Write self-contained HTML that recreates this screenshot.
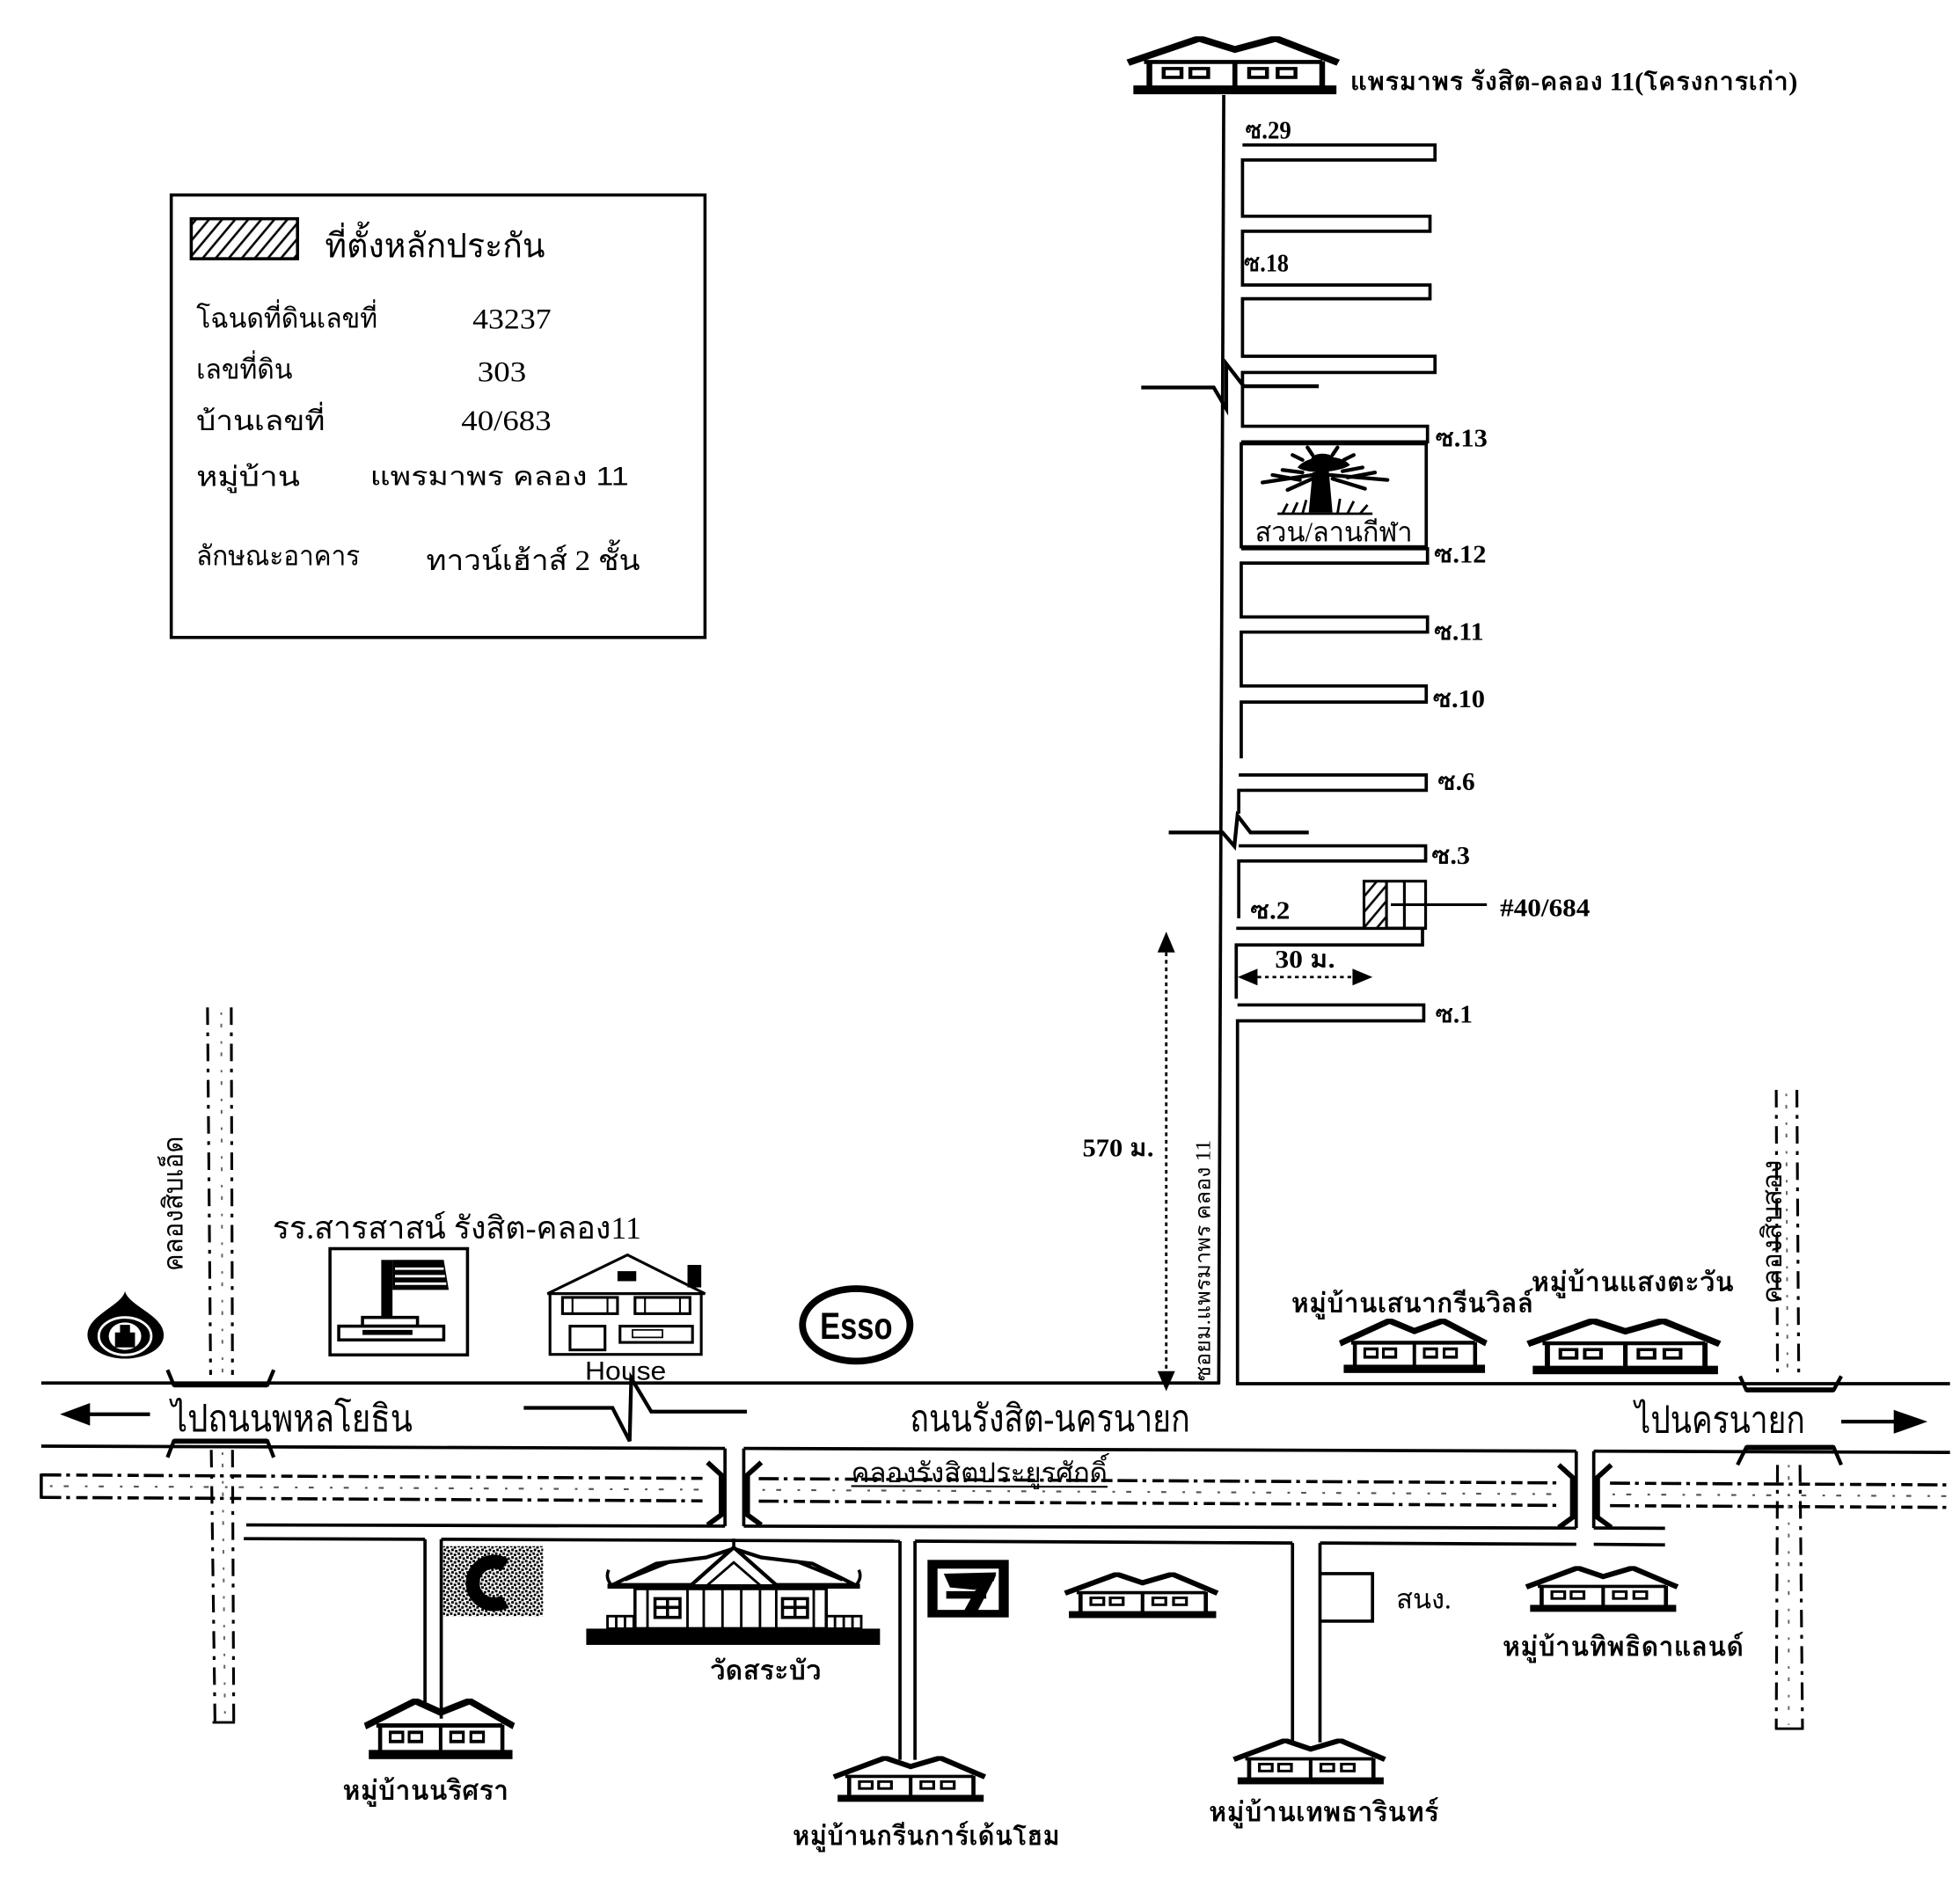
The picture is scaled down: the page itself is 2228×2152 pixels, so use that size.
<!DOCTYPE html>
<html><head><meta charset="utf-8"><style>
html,body{margin:0;padding:0;background:#fff;}
svg{display:block;}
.t{font-family:"Liberation Serif","Norasi","Loma","Noto Sans CJK SC",serif;fill:#000;}
.b{font-weight:bold;}
.s{font-family:"Liberation Sans","Loma","Noto Sans CJK SC",sans-serif;fill:#000;}
</style></head><body>
<svg width="2228" height="2152" viewBox="0 0 1568 1514.5" preserveAspectRatio="none" xmlns="http://www.w3.org/2000/svg">
<defs>
<pattern id="hatch" width="8" height="8" patternUnits="userSpaceOnUse" patternTransform="rotate(40)"><rect width="8" height="8" fill="#fff"/><line x1="1" y1="0" x2="1" y2="8" stroke="#000" stroke-width="1.8"/></pattern>
<pattern id="speck" width="6" height="6" patternUnits="userSpaceOnUse"><rect width="6" height="6" fill="#fff"/><rect x="0" y="0" width="2" height="2" fill="#000"/><rect x="3" y="1" width="2" height="2" fill="#000"/><rect x="1" y="3" width="2" height="2" fill="#000"/><rect x="4" y="4" width="2" height="2" fill="#000"/></pattern>
<symbol id="hs" viewBox="0 0 120 40" preserveAspectRatio="none">
 <polyline points="1,18 41,1.5 61,9 84,1.5 119,18" fill="none" stroke="#000" stroke-width="4.5" stroke-linejoin="miter"/>
 <line x1="10" y1="17.5" x2="110" y2="17.5" stroke="#000" stroke-width="2.8"/>
 <line x1="13" y1="17" x2="13" y2="34" stroke="#000" stroke-width="3.2"/>
 <line x1="61" y1="17" x2="61" y2="34" stroke="#000" stroke-width="2.8"/>
 <line x1="110" y1="17" x2="110" y2="34" stroke="#000" stroke-width="3.2"/>
 <rect x="21" y="22" width="10" height="6" fill="none" stroke="#000" stroke-width="2.2"/>
 <rect x="36" y="22" width="10" height="6" fill="none" stroke="#000" stroke-width="2.2"/>
 <rect x="69" y="22" width="10" height="6" fill="none" stroke="#000" stroke-width="2.2"/>
 <rect x="85" y="22" width="10" height="6" fill="none" stroke="#000" stroke-width="2.2"/>
 <rect x="4" y="33.5" width="114" height="6" fill="#000"/>
</symbol>
</defs>
<rect x="0" y="0" width="1568" height="1514.5" fill="#fff"/>

<!-- Legend -->
<rect x="137" y="156" width="427" height="354" fill="none" stroke="#000" stroke-width="2.5"/>
<rect x="153" y="175" width="85" height="32" fill="url(#hatch)" stroke="#000" stroke-width="2.5"/>
<text class="t" x="260" y="206" font-size="27" textLength="176" lengthAdjust="spacingAndGlyphs">ที่ตั้งหลักประกัน</text>
<text class="t" x="157" y="262" font-size="22" textLength="145" lengthAdjust="spacingAndGlyphs">โฉนดที่ดินเลขที่</text>
<text class="t" x="378" y="263" font-size="23" textLength="63" lengthAdjust="spacingAndGlyphs">43237</text>
<text class="t" x="157" y="303" font-size="22" textLength="77" lengthAdjust="spacingAndGlyphs">เลขที่ดิน</text>
<text class="t" x="382" y="305" font-size="23" textLength="39" lengthAdjust="spacingAndGlyphs">303</text>
<text class="t" x="157" y="344" font-size="22" textLength="103" lengthAdjust="spacingAndGlyphs">บ้านเลขที่</text>
<text class="t" x="369" y="344" font-size="23" textLength="72" lengthAdjust="spacingAndGlyphs">40/683</text>
<text class="t" x="157" y="389" font-size="22" textLength="83" lengthAdjust="spacingAndGlyphs">หมู่บ้าน</text>
<text class="s" x="296" y="388" font-size="21" textLength="207" lengthAdjust="spacingAndGlyphs">แพรมาพร คลอง 11</text>
<text class="t" x="157" y="452" font-size="22" textLength="131" lengthAdjust="spacingAndGlyphs">ลักษณะอาคาร</text>
<text class="t" x="341" y="456" font-size="23" textLength="171" lengthAdjust="spacingAndGlyphs">ทาวน์เฮ้าส์ 2 ชั้น</text>

<!-- Top house -->
<use href="#hs" x="901" y="29" width="171" height="47"/>
<text class="t b" x="1080" y="72" font-size="21" textLength="358" lengthAdjust="spacingAndGlyphs">แพรมาพร รังสิต-คลอง 11(โครงการเก่า)</text>

<!-- Main soi road -->
<g fill="none" stroke="#000" stroke-width="2.6">
<path d="M979,76 L975,1107"/>
<path d="M994,116 H1148 V128 H994 V173 H1144 V185 H994 V228 H1144 V239 H994 V285 H1148 V298 H994 V341 H1142 V353.5 H993"/>
<rect x="993" y="355" width="148" height="82.5"/>
<path d="M993,439 H1142 V450.5 H993 V493.6 H1142 V505.7 H993 V548.8 H1141 V561.7 H993 V606.7"/>
<path d="M991,620 H1141 V632.3 H991 V651"/>
<path d="M991,676.7 H1140.5 V688.8 H991 V734.6"/>
<path d="M989,742.7 H1140.5 M1138,742.7 V756 H989 V799"/>
<path d="M990,804 H1139 V816.7 H990 V1107 H1560"/>
<path d="M33,1106.5 H976"/>
</g>
<!-- breaks -->
<g fill="none" stroke="#000" stroke-width="3">
<path d="M913,310 H971 L981,327 L981,291 L995,309 H1055"/>
<path d="M935,666 H978 L987.5,677 L990,652.5 L1000.4,666 H1047"/>
<path d="M419,1126.4 H490 L503.7,1153 L505,1102.6 L521,1129.4 H597.5"/>
</g>

<!-- Garden tree -->
<g>
<polygon points="1050,378 1063,376 1066,410 1047,410" fill="#000"/>
<path d="M1038,374 C1045,364 1072,362 1080,372 C1072,378 1046,380 1038,374 Z" fill="#000"/>
<ellipse cx="1058" cy="367" rx="9" ry="4" fill="#000"/>
<g stroke="#000" stroke-width="3" fill="none" stroke-linecap="round">
<path d="M1010,386 L1050,380 M1018,380 L1040,384 M1030,392 L1050,383 M1026,376 L1042,378"/>
<path d="M1110,384 L1064,380 M1100,378 L1078,382 M1092,391 L1066,383 M1090,374 L1074,377"/>
<path d="M1042,368 L1034,364 M1075,368 L1083,364 M1050,364 L1046,358 M1066,364 L1070,358"/>
</g>
<g stroke="#000" stroke-width="2" fill="none">
<path d="M1022,411 H1098 M1026,411 L1030,403 M1034,411 L1038,402 M1042,411 L1045,400 M1070,411 L1072,399 M1078,411 L1083,401 M1088,411 L1094,404"/>
</g>
</g>
<text class="t" x="1004" y="433" font-size="22" textLength="126" lengthAdjust="spacingAndGlyphs">สวน/ลานกีฬา</text>

<!-- soi labels -->
<g class="t b" font-size="20">
<text x="996" y="111" textLength="37" lengthAdjust="spacingAndGlyphs">ซ.29</text>
<text x="995" y="217" textLength="36" lengthAdjust="spacingAndGlyphs">ซ.18</text>
<text x="1148" y="357" textLength="42" lengthAdjust="spacingAndGlyphs">ซ.13</text>
<text x="1147" y="450" textLength="42" lengthAdjust="spacingAndGlyphs">ซ.12</text>
<text x="1147" y="512" textLength="40" lengthAdjust="spacingAndGlyphs">ซ.11</text>
<text x="1146" y="566" textLength="42" lengthAdjust="spacingAndGlyphs">ซ.10</text>
<text x="1150" y="632" textLength="30" lengthAdjust="spacingAndGlyphs">ซ.6</text>
<text x="1145" y="691" textLength="31" lengthAdjust="spacingAndGlyphs">ซ.3</text>
<text x="1000" y="735" textLength="32" lengthAdjust="spacingAndGlyphs">ซ.2</text>
<text x="1200" y="733" textLength="72" lengthAdjust="spacingAndGlyphs">#40/684</text>
<text x="1020" y="774" textLength="48" lengthAdjust="spacingAndGlyphs">30 ม.</text>
<text x="1148" y="818" textLength="30" lengthAdjust="spacingAndGlyphs">ซ.1</text>
<text x="866" y="925" textLength="57" lengthAdjust="spacingAndGlyphs">570 ม.</text>
</g>

<!-- plot -->
<rect x="1091.2" y="705" width="18" height="37.7" fill="url(#hatch)"/>
<g fill="none" stroke="#000" stroke-width="2.2">
<rect x="1091.2" y="705" width="49.3" height="37.7"/>
<line x1="1109.2" y1="705" x2="1109.2" y2="742.7"/>
<line x1="1123.5" y1="705" x2="1123.5" y2="742.7"/>
<line x1="1112.7" y1="723.8" x2="1189.5" y2="723.8"/>
</g>

<!-- 30m arrow -->
<line x1="1006" y1="781.7" x2="1082" y2="781.7" stroke="#000" stroke-width="2" stroke-dasharray="3 3"/>
<polygon points="990.2,781.7 1006,775 1006,788.4" fill="#000"/>
<polygon points="1098,781.7 1082,775 1082,788.4" fill="#000"/>

<!-- 570m arrow -->
<line x1="933" y1="762" x2="933" y2="1097" stroke="#000" stroke-width="2" stroke-dasharray="3 3"/>
<polygon points="933,745.4 926,762 940,762" fill="#000"/>
<polygon points="933,1113 926,1097 940,1097" fill="#000"/>

<text class="t" font-size="17" transform="translate(968,1105) rotate(-90)" textLength="193" lengthAdjust="spacingAndGlyphs">ซอยม.แพรมาพร คลอง 11</text>

<!-- Highway bottom & lower roads -->
<g stroke="#000" stroke-width="2.6" fill="none">
<line x1="33" y1="1157" x2="580" y2="1158.8"/>
<line x1="595" y1="1158.8" x2="1261" y2="1161"/>
<line x1="1275" y1="1161" x2="1560" y2="1162"/>
<line x1="197" y1="1220" x2="580" y2="1221"/>
<line x1="595" y1="1221" x2="1261" y2="1222.5"/>
<line x1="1275" y1="1222.5" x2="1332" y2="1222.7"/>
<line x1="195" y1="1231" x2="340" y2="1231.5"/>
<line x1="353" y1="1231.5" x2="720" y2="1233"/>
<line x1="732" y1="1233" x2="1034" y2="1234.5"/>
<line x1="1056" y1="1234.5" x2="1261" y2="1235.5"/>
<line x1="1275" y1="1235.5" x2="1332" y2="1236"/>
<line x1="340" y1="1231.5" x2="340" y2="1362"/>
<line x1="353" y1="1231.5" x2="353" y2="1375"/>
<line x1="720" y1="1233" x2="720" y2="1408"/>
<line x1="732" y1="1233" x2="732" y2="1408"/>
<line x1="1034" y1="1234.5" x2="1034" y2="1394"/>
<line x1="1056" y1="1234.5" x2="1056" y2="1394"/>
<line x1="580" y1="1158.8" x2="580" y2="1221"/>
<line x1="595" y1="1158.8" x2="595" y2="1221"/>
<line x1="1261" y1="1161" x2="1261" y2="1222.5"/>
<line x1="1275" y1="1161" x2="1275" y2="1222.5"/>
<path d="M1056,1259 H1098 V1297 H1056"/>
</g>
<!-- crossing brackets -->
<g stroke="#000" stroke-width="4" fill="none">
<path d="M566,1170 L577,1180 L577,1212 L566,1220"/>
<path d="M609,1170 L598,1180 L598,1212 L609,1220"/>
<path d="M1247,1172 L1258,1182 L1258,1214 L1247,1222"/>
<path d="M1289,1172 L1278,1182 L1278,1214 L1289,1222"/>
</g>

<!-- canal band -->
<g stroke="#000" stroke-width="2.5" fill="none" stroke-dasharray="16 4 3 5 9 4">
<line x1="33" y1="1180" x2="566" y2="1182.8"/>
<line x1="607" y1="1183" x2="1249" y2="1186.4"/>
<line x1="1288" y1="1186.6" x2="1560" y2="1188"/>
<line x1="33" y1="1198" x2="566" y2="1200.8"/>
<line x1="607" y1="1201" x2="1249" y2="1204.4"/>
<line x1="1288" y1="1204.6" x2="1560" y2="1206"/>
</g>
<g stroke="#555" stroke-width="1.5" fill="none" stroke-dasharray="2 9 4 13">
<line x1="40" y1="1189" x2="566" y2="1191.8"/>
<line x1="610" y1="1192" x2="1249" y2="1195.4"/>
<line x1="1290" y1="1195.6" x2="1560" y2="1197"/>
</g>
<line x1="33" y1="1179" x2="33" y2="1199" stroke="#000" stroke-width="2.5"/>
<line x1="681" y1="1189" x2="886" y2="1189.5" stroke="#000" stroke-width="1.5"/>
<text class="t" x="681" y="1186" font-size="22" textLength="205" lengthAdjust="spacingAndGlyphs">คลองรังสิตประยูรศักดิ์</text>

<!-- klongs -->
<g stroke="#000" stroke-width="2.2" fill="none" stroke-dasharray="14 6 3 6">
<line x1="166" y1="806" x2="168.5" y2="1100"/>
<line x1="185" y1="806" x2="186" y2="1100"/>
<line x1="169" y1="1160" x2="172" y2="1378"/>
<line x1="186" y1="1160" x2="187" y2="1378"/>
<line x1="1421" y1="872" x2="1422" y2="1101"/>
<line x1="1437.5" y1="872" x2="1439" y2="1101"/>
<line x1="1422" y1="1172" x2="1421" y2="1383"/>
<line x1="1440" y1="1172" x2="1442" y2="1383"/>
</g>
<g stroke="#666" stroke-width="1.4" fill="none" stroke-dasharray="2 7 3 11">
<line x1="1429" y1="875" x2="1430" y2="1100"/>
<line x1="1431" y1="1172" x2="1431" y2="1380"/>
<line x1="177" y1="810" x2="178" y2="1098"/>
<line x1="178" y1="1162" x2="180" y2="1375"/>
</g>
<line x1="170" y1="1378" x2="188" y2="1378" stroke="#000" stroke-width="2"/>
<line x1="1420" y1="1383" x2="1443" y2="1383" stroke="#000" stroke-width="2"/>
<text class="t" font-size="22" transform="translate(146,1017) rotate(-90)" textLength="108" lengthAdjust="spacingAndGlyphs">คลองสิบเอ็ด</text>
<text class="t" font-size="22" transform="translate(1425,1043) rotate(-90)" textLength="115" lengthAdjust="spacingAndGlyphs">คลองสิบสอง</text>

<!-- bridges -->
<g stroke="#000" fill="none" stroke-width="3">
<path d="M134,1096 L139,1108 H214 L219,1096"/>
<path d="M134,1166 L139,1153 H214 L219,1166"/>
<path d="M1392,1101 L1397,1112 H1467 L1473,1101"/>
<path d="M1390,1172 L1397,1158 H1467 L1473,1172"/>
</g>
<g fill="#000">
<rect x="139" y="1106" width="75" height="4"/>
<rect x="139" y="1151" width="75" height="4"/>
<rect x="1397" y="1110" width="70" height="4"/>
<rect x="1397" y="1156" width="70" height="4"/>
</g>

<!-- arrows -->
<line x1="70" y1="1131.5" x2="120" y2="1131.5" stroke="#000" stroke-width="3"/>
<polygon points="48,1131.5 72,1122.5 72,1140.5" fill="#000"/>
<line x1="1473" y1="1137.4" x2="1516" y2="1137.4" stroke="#000" stroke-width="3"/>
<polygon points="1542,1137.4 1515,1128 1515,1147" fill="#000"/>

<!-- highway texts -->
<text class="t" x="137" y="1145" font-size="30" textLength="193" lengthAdjust="spacingAndGlyphs">ไปถนนพหลโยธิน</text>
<text class="t" x="728" y="1145" font-size="30" textLength="224" lengthAdjust="spacingAndGlyphs">ถนนรังสิต-นครนายก</text>
<text class="t" x="1308" y="1146" font-size="30" textLength="136" lengthAdjust="spacingAndGlyphs">ไปนครนายก</text>

<!-- left logo -->
<path d="M100,1033 C97,1045 70,1052 70,1068 C70,1080 85,1087 100,1087 C115,1087 131,1080 131,1068 C131,1052 103,1045 100,1033 Z" fill="#000"/>
<ellipse cx="100" cy="1069" rx="21" ry="15" fill="none" stroke="#fff" stroke-width="2"/>
<ellipse cx="100" cy="1069" rx="13" ry="11" fill="#fff"/>
<path d="M96,1060 h8 v6 h4 v12 h-16 v-12 h4 z" fill="#000"/>

<!-- school -->
<text class="t" x="218" y="991" font-size="25" textLength="295" lengthAdjust="spacingAndGlyphs">รร.สารสาสน์ รังสิต-คลอง11</text>
<rect x="264" y="999" width="110" height="85" fill="#fff" stroke="#000" stroke-width="2.5"/>
<rect x="305" y="1008" width="9" height="52" fill="#000"/>
<polygon points="314,1008 355,1008 359,1032 314,1032" fill="#000"/>
<g stroke="#fff" stroke-width="2"><line x1="316" y1="1015" x2="355" y2="1015"/><line x1="316" y1="1021" x2="356" y2="1021"/><line x1="316" y1="1027" x2="357" y2="1027"/></g>
<rect x="290" y="1054" width="44" height="7" fill="#fff" stroke="#000" stroke-width="2.5"/>
<rect x="271" y="1061" width="84" height="11" fill="#fff" stroke="#000" stroke-width="2.5"/>
<rect x="290" y="1064" width="40" height="4" fill="#000"/>

<!-- House -->
<g fill="#fff" stroke="#000" stroke-width="2.2">
<polygon points="438,1035 502,1004 564,1035"/>
<rect x="440" y="1035" width="121" height="48.6"/>
<rect x="450" y="1038" width="44" height="13"/>
<rect x="508" y="1038" width="44" height="13"/>
<rect x="456" y="1061" width="28" height="19"/>
<rect x="496" y="1061" width="58" height="13"/>
<rect x="506" y="1064" width="24" height="6" stroke-width="1.2"/>
</g>
<g stroke="#000" stroke-width="1.5"><line x1="458" y1="1038" x2="458" y2="1051"/><line x1="486" y1="1038" x2="486" y2="1051"/><line x1="516" y1="1038" x2="516" y2="1051"/><line x1="544" y1="1038" x2="544" y2="1051"/></g>
<rect x="550" y="1012" width="11" height="18" fill="#000"/>
<rect x="494" y="1017" width="15" height="8" fill="#000"/>
<text class="s" x="468" y="1104" font-size="21" textLength="65" lengthAdjust="spacingAndGlyphs">House</text>

<!-- Esso -->
<ellipse cx="685" cy="1060" rx="43" ry="29" fill="#fff" stroke="#000" stroke-width="5.5"/>
<text class="s b" x="656" y="1071" font-size="30" textLength="58" lengthAdjust="spacingAndGlyphs">Esso</text>

<!-- right villages -->
<use href="#hs" x="1071" y="1055" width="119" height="44"/>
<use href="#hs" x="1221" y="1055" width="156" height="45"/>
<text class="t b" x="1033" y="1050" font-size="22" textLength="194" lengthAdjust="spacingAndGlyphs">หมู่บ้านเสนากรีนวิลล์</text>
<text class="t b" x="1225" y="1033" font-size="22" textLength="162" lengthAdjust="spacingAndGlyphs">หมู่บ้านแสงตะวัน</text>

<!-- Big C -->
<rect x="354.5" y="1237" width="80" height="56" fill="url(#speck)"/>
<path d="M404,1252 A17,17 0 1 0 404,1281" fill="none" stroke="#000" stroke-width="11"/>

<!-- Wat -->
<g>
<rect x="469" y="1303" width="235" height="13" fill="#000"/>
<g fill="none" stroke="#000" stroke-width="2">
<rect x="486" y="1293" width="27" height="10"/>
<rect x="661" y="1293" width="28" height="10"/>
<path d="M493,1293 V1303 M500,1293 V1303 M507,1293 V1303 M668,1293 V1303 M675,1293 V1303 M682,1293 V1303"/>
</g>
<rect x="508" y="1271" width="153" height="32" fill="#fff" stroke="#000" stroke-width="2.5"/>
<g stroke="#000" stroke-width="2">
<path d="M518,1271 V1303 M550,1271 V1303 M563,1271 V1303 M578,1271 V1303 M593,1271 V1303 M608,1271 V1303 M621,1271 V1303 M651,1271 V1303"/>
</g>
<g fill="none" stroke="#000" stroke-width="2.5">
<rect x="524" y="1279" width="20" height="15"/>
<rect x="626" y="1279" width="20" height="15"/>
<path d="M534,1279 V1294 M524,1286 H544 M636,1279 V1294 M626,1286 H646"/>
</g>
<polygon points="490,1268 525,1251 565,1246 587,1239 609,1246 650,1251 684,1268" fill="#fff" stroke="#000" stroke-width="3"/>
<line x1="486" y1="1269" x2="688" y2="1269" stroke="#000" stroke-width="4"/>
<polygon points="552,1269 587,1238 622,1269" fill="#fff" stroke="#000" stroke-width="3"/>
<polygon points="565,1269 587,1250 609,1269" fill="none" stroke="#000" stroke-width="2"/>
<g fill="none" stroke="#000" stroke-width="2.5">
<path d="M500,1264 L535,1250 M674,1264 L639,1250 M489,1268 q-5,-6 -2,-12 M685,1268 q5,-6 2,-12 M587,1238 V1231"/>
</g>
</g>
<text class="t b" x="568" y="1344" font-size="22" textLength="89" lengthAdjust="spacingAndGlyphs">วัดสระบัว</text>

<!-- 7-eleven -->
<rect x="742" y="1248" width="65" height="46" fill="#000"/>
<rect x="750" y="1255" width="49" height="33" fill="#fff"/>
<polygon points="755,1259 797,1258 795,1265 786,1266 780,1272 760,1270" fill="#000"/>
<polygon points="786,1262 797,1260 781,1291 770,1291" fill="#000"/>
<rect x="757" y="1273" width="32" height="6" fill="#000"/>

<!-- bottom houses -->
<use href="#hs" x="851" y="1258" width="124" height="37"/>
<use href="#hs" x="1220" y="1253" width="123" height="37"/>
<use href="#hs" x="291" y="1359" width="121" height="49"/>
<use href="#hs" x="666" y="1405" width="123" height="37"/>
<use href="#hs" x="986" y="1391" width="123" height="37"/>

<text class="t" x="1117" y="1287" font-size="22" textLength="44" lengthAdjust="spacingAndGlyphs">สนง.</text>
<text class="t b" x="1202" y="1325" font-size="22" textLength="193" lengthAdjust="spacingAndGlyphs">หมู่บ้านทิพธิดาแลนด์</text>
<text class="t b" x="274" y="1440" font-size="22" textLength="133" lengthAdjust="spacingAndGlyphs">หมู่บ้านนริศรา</text>
<text class="t b" x="634" y="1476" font-size="22" textLength="214" lengthAdjust="spacingAndGlyphs">หมู่บ้านกรีนการ์เด้นโฮม</text>
<text class="t b" x="967" y="1457" font-size="22" textLength="184" lengthAdjust="spacingAndGlyphs">หมู่บ้านเทพธารินทร์</text>
</svg>
</body></html>
